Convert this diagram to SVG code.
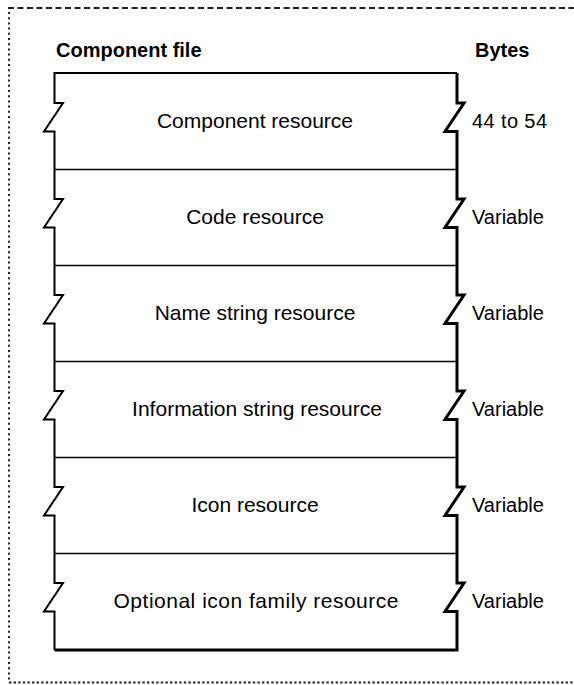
<svg xmlns="http://www.w3.org/2000/svg" width="574" height="685" viewBox="0 0 574 685">
<style>
.hdr{font-family:"Liberation Sans",Arial,sans-serif;font-weight:bold;font-size:20px;fill:#000}
.lbl{font-family:"Liberation Sans",Arial,sans-serif;font-size:21px;fill:#000;text-anchor:middle}
.val{font-family:"Liberation Sans",Arial,sans-serif;font-size:20px;fill:#000}
.edge{fill:none;stroke:#000;stroke-linejoin:miter}
.div{stroke:#000;stroke-width:1.6}
.frame{fill:none;stroke:#222;stroke-width:2}
</style>
<rect width="574" height="685" fill="#fff"/>
<g id="border">
<line class="frame" x1="8" y1="8" x2="574" y2="8" stroke-dasharray="6 3.5"/>
<line class="frame" x1="9" y1="12" x2="9" y2="683" stroke-dasharray="2 3.2"/>
<line class="frame" x1="9" y1="682.5" x2="574" y2="682.5" stroke-dasharray="2.4 2.2"/>
</g>
<g id="headers">
<text class="hdr" x="56" y="57">Component file</text>
<text class="hdr" x="475" y="57">Bytes</text>
</g>
<g id="file-outline">
<path class="edge" stroke-width="2" d="M54.5,650 V611.5 H44 L63,583 H54.5 V515.5 H44 L63,487 H54.5 V419.5 H44 L63,391 H54.5 V323.5 H44 L63,295 H54.5 V227.5 H44 L63,199 H54.5 V131.5 H44 L63,103 H54.5 V73 H457"/>
<path class="edge" stroke-width="3" d="M457,73 V103 H464 L445,131.5 H457 V199 H464 L445,227.5 H457 V295 H464 L445,323.5 H457 V391 H464 L445,419.5 H457 V487 H464 L445,515.5 H457 V583 H464 L445,611.5 H457 V650 H54.5"/>
</g>
<g id="dividers">
<line class="div" x1="55" y1="169.5" x2="457" y2="169.5"/>
<line class="div" x1="55" y1="265.5" x2="457" y2="265.5"/>
<line class="div" x1="55" y1="361.5" x2="457" y2="361.5"/>
<line class="div" x1="55" y1="457.5" x2="457" y2="457.5"/>
<line class="div" x1="55" y1="553.5" x2="457" y2="553.5"/>
</g>
<g id="component-resource">
<text class="lbl" x="255" y="128">Component resource</text>
<text class="val" x="472" y="128" textLength="75" lengthAdjust="spacing">44 to 54</text>
</g>
<g id="code-resource">
<text class="lbl" x="255" y="224">Code resource</text>
<text class="val" x="472" y="224">Variable</text>
</g>
<g id="name-string-resource">
<text class="lbl" x="255" y="320">Name string resource</text>
<text class="val" x="472" y="320">Variable</text>
</g>
<g id="information-string-resource">
<text class="lbl" x="257" y="416">Information string resource</text>
<text class="val" x="472" y="416">Variable</text>
</g>
<g id="icon-resource">
<text class="lbl" x="255" y="512">Icon resource</text>
<text class="val" x="472" y="512">Variable</text>
</g>
<g id="optional-icon-family-resource">
<text class="lbl" x="256" y="608" textLength="285" lengthAdjust="spacing">Optional icon family resource</text>
<text class="val" x="472" y="608">Variable</text>
</g>
</svg>
